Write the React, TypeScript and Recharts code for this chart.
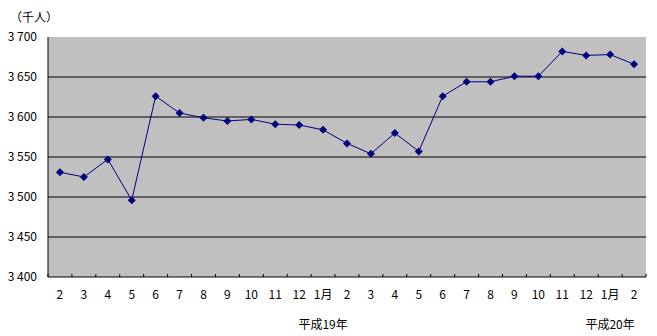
import React from 'react';
import { CartesianGrid, Line, LineChart, XAxis, YAxis } from 'recharts';

const categories = ['2', '3', '4', '5', '6', '7', '8', '9', '10', '11', '12', '1月', '2', '3', '4', '5', '6', '7', '8', '9', '10', '11', '12', '1月', '2'];
const yearLabels = ['', '', '', '', '', '', '', '', '', '', '', '平成19年', '', '', '', '', '', '', '', '', '', '', '', '平成20年', ''];
const employed = [3531, 3525, 3547, 3496, 3626, 3605, 3599, 3595, 3597, 3591, 3590, 3584, 3567, 3554, 3580, 3557, 3626, 3644, 3644, 3651, 3651, 3682, 3677, 3678, 3666];
const yTicks = [3400, 3450, 3500, 3550, 3600, 3650, 3700];
const gridValues = [3450, 3500, 3550, 3600, 3650];

const data = categories.map((c, i) => ({ key: i, month: c, year: yearLabels[i], value: employed[i] }));

const W = 657;
const H = 336;
const LEFT = 48;
const RIGHT = 11;
const TOP = 37;
const BOTTOM = 59;
const AXIS_Y = H - BOTTOM;
const STEP = (W - LEFT - RIGHT) / categories.length;
const FONT = "'Noto Sans CJK JP', sans-serif";
const NAVY = '#000080';

const fmt = (v: number) => `${Math.floor(v / 1000)} ${String(v % 1000).padStart(3, '0')}`;

function MonthTick(props: any) {
  const { x, payload } = props;
  const i = payload.index ?? payload.value;
  const left = x - STEP / 2;
  return (
    <g>
      <line x1={left} x2={left} y1={AXIS_Y} y2={AXIS_Y - 3} stroke="#000" />
      {i === categories.length - 1 && (
        <line x1={x + STEP / 2} x2={x + STEP / 2} y1={AXIS_Y} y2={AXIS_Y - 3} stroke="#000" />
      )}
      <text x={x} y={AXIS_Y + 22} textAnchor="middle" fontSize={12} fontFamily={FONT} fill="#000">
        {categories[i]}
      </text>
      {yearLabels[i] && (
        <text x={x} y={AXIS_Y + 52} textAnchor="middle" fontSize={12} fontFamily={FONT} fill="#000">
          {yearLabels[i]}
        </text>
      )}
    </g>
  );
}

function Diamond(props: any) {
  const { cx, cy } = props;
  if (cx == null || cy == null) return null;
  const r = 4;
  return <polygon points={`${cx},${cy - r} ${cx + r},${cy} ${cx},${cy + r} ${cx - r},${cy}`} fill={NAVY} />;
}

export default function App() {
  return (
    <div style={{ position: 'absolute', left: 0, top: 0, width: W, height: H, background: '#fff' }}>
      <div style={{ position: 'absolute', left: 10, top: 8, fontSize: 12, fontFamily: FONT }}>（千人）</div>
      <LineChart width={W} height={H} data={data} margin={{ top: TOP, right: RIGHT, left: 0, bottom: 0 }}>
        <CartesianGrid vertical={false} stroke="#000" fill="#C0C0C0" horizontalValues={gridValues} />
        <XAxis
          dataKey="key"
          scale="band"
          height={BOTTOM}
          interval={0}
          axisLine={{ stroke: '#000' }}
          tickLine={false}
          tick={<MonthTick />}
        />
        <XAxis
          xAxisId="top"
          dataKey="key"
          scale="band"
          orientation="top"
          height={0}
          tick={false}
          tickLine={false}
          axisLine={{ stroke: '#808080' }}
        />
        <YAxis
          width={LEFT}
          domain={[3400, 3700]}
          ticks={yTicks}
          interval={0}
          tickFormatter={fmt}
          axisLine={{ stroke: '#000' }}
          tickLine={false}
          tickMargin={5}
          tick={{ fill: '#000', fontSize: 12, fontFamily: FONT }}
        />
        <YAxis
          yAxisId="right"
          orientation="right"
          width={0}
          domain={[3400, 3700]}
          tick={false}
          tickLine={false}
          axisLine={{ stroke: '#808080' }}
        />
        <Line
          type="linear"
          dataKey="value"
          stroke={NAVY}
          strokeWidth={1}
          dot={<Diamond />}
          activeDot={false}
          isAnimationActive={false}
        />
      </LineChart>
    </div>
  );
}
